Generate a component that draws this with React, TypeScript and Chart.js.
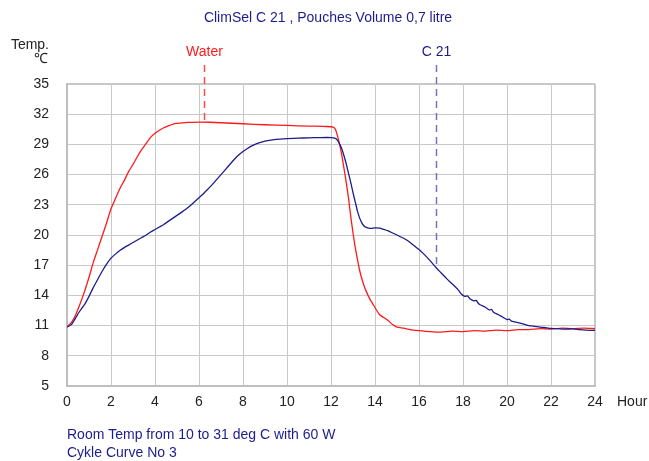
import React, { useEffect, useRef } from "react";
import { Chart, registerables } from "chart.js";

Chart.register(...registerables);

const titleText = "ClimSel C 21 , Pouches Volume 0,7 litre";
const yAxisLabel = ["Temp.", "℃"];
const xAxisLabel = "Hour";
const footerLines = ["Room Temp from 10 to 31 deg C with 60 W", "Cykle Curve No 3"];

const annotationLabels = ["Water", "C 21"];
const annotationHours = [6.23, 16.76];
const annotationTemps = [31.2, 16.7];

const waterHours = [
  0, 0.2, 0.4, 0.6, 0.8, 1.0, 1.2, 1.4, 1.6, 1.8, 2.0, 2.2, 2.4, 2.6, 2.8, 3.0, 3.2, 3.4, 3.6, 3.8,
  4.0, 4.2, 4.4, 4.6, 4.8, 5.0, 5.5, 6.0, 6.5, 7.0, 8.0, 9.0, 10.0, 11.0, 11.8, 12.1, 12.2, 12.3,
  12.4, 12.5, 12.6, 12.7, 12.8, 12.9, 13.0, 13.1, 13.2, 13.3, 13.45, 13.6, 13.8, 14.0, 14.2, 14.4,
  14.6, 14.8, 15.0, 15.3, 15.6, 16.0, 16.5, 17.0, 17.5, 18.0, 18.5, 19.0, 19.5, 20.0, 20.5, 21.0,
  21.5, 22.0, 22.5, 23.0, 23.5, 24.0,
];
const waterTemps = [
  10.9, 11.3, 12.1, 13.2, 14.4, 15.8, 17.3, 18.6, 19.9, 21.2, 22.6, 23.6, 24.6, 25.4, 26.3, 27.0,
  27.8, 28.5, 29.1, 29.7, 30.1, 30.4, 30.65, 30.85, 31.0, 31.08, 31.18, 31.22, 31.2, 31.15, 31.05,
  30.95, 30.88, 30.82, 30.78, 30.72, 30.5, 29.8, 28.9, 27.8, 26.5, 25.1, 23.6, 21.8, 20.2, 18.8,
  17.6, 16.5, 15.3, 14.4, 13.5, 12.8, 12.1, 11.8, 11.5, 11.1, 10.85, 10.75, 10.6, 10.5, 10.4, 10.35,
  10.45, 10.4, 10.5, 10.45, 10.55, 10.5, 10.6, 10.6, 10.7, 10.65, 10.75, 10.7, 10.75, 10.7,
];

const c21Hours = [
  0, 0.2, 0.4, 0.6, 0.8, 1.0, 1.2, 1.4, 1.6, 1.8, 2.0, 2.2, 2.4, 2.6, 2.8, 3.0, 3.2, 3.4, 3.6, 3.8,
  4.0, 4.2, 4.4, 4.6, 4.8, 5.0, 5.2, 5.4, 5.6, 5.8, 6.0, 6.2, 6.4, 6.6, 6.8, 7.0, 7.2, 7.4, 7.6, 7.8,
  8.0, 8.2, 8.4, 8.6, 8.8, 9.0, 9.5, 10.0, 10.5, 11.0, 11.5, 12.0, 12.2, 12.3, 12.4, 12.5, 12.6,
  12.7, 12.8, 12.9, 13.0, 13.1, 13.2, 13.3, 13.4, 13.5, 13.6, 13.8, 14.0, 14.2, 14.4, 14.6, 14.8,
  15.0, 15.2, 15.4, 15.6, 15.8, 16.0, 16.2, 16.4, 16.6, 16.8, 17.0, 17.2, 17.4, 17.6, 17.8, 17.9,
  18.0, 18.1, 18.2, 18.3, 18.4, 18.5, 18.6, 18.7, 18.8, 19.0, 19.2, 19.3, 19.4, 19.6, 19.8, 20.0,
  20.1, 20.2, 20.4, 20.6, 20.8, 21.0, 21.2, 21.5, 21.8, 22.0, 22.3, 22.6, 23.0, 23.3, 23.6, 24.0,
];
const c21Temps = [
  10.85, 11.1, 11.8, 12.5, 13.1, 13.9, 14.8, 15.6, 16.4, 17.1, 17.7, 18.1, 18.45, 18.75, 19.0, 19.25,
  19.5, 19.75, 20.0, 20.3, 20.55, 20.8, 21.05, 21.35, 21.65, 21.95, 22.25, 22.55, 22.9, 23.3, 23.7,
  24.1, 24.55, 25.0, 25.5, 26.0, 26.5, 27.0, 27.5, 27.95, 28.3, 28.6, 28.85, 29.05, 29.2, 29.32,
  29.5, 29.58, 29.62, 29.65, 29.68, 29.68, 29.6, 29.4, 29.0, 28.5, 27.8, 27.0, 26.1, 25.2, 24.2,
  23.3, 22.4, 21.7, 21.2, 20.9, 20.75, 20.65, 20.7, 20.68, 20.55, 20.4, 20.2, 20.0, 19.78, 19.55,
  19.25, 18.9, 18.55, 18.15, 17.7, 17.2, 16.7, 16.25, 15.8, 15.35, 14.95, 14.5, 14.2, 14.0, 13.9,
  13.95, 13.7, 13.55, 13.45, 13.5, 13.2, 13.05, 12.85, 12.55, 12.6, 12.3, 12.1, 11.85, 11.6, 11.65,
  11.45, 11.35, 11.25, 11.12, 11.0, 10.95, 10.85, 10.78, 10.72, 10.7, 10.65, 10.68, 10.6, 10.55,
  10.52,
];

const yTicks = [5, 8, 11, 14, 17, 20, 23, 26, 29, 32, 35];
const xTicks = [0, 2, 4, 6, 8, 10, 12, 14, 16, 18, 20, 22, 24];

const FONT = "'Liberation Sans', Arial, sans-serif";
const RED = "#ff1a1a";
const BLUE = "#1c1c8c";
const TEXT_BLUE = "#1c1c8c";
const GRID = "#c8c8c8";
const BORDER = "#bebebe";

const toPoints = (xs: number[], ys: number[]) => xs.map((x, i) => ({ x, y: ys[i] }));

const overlayPlugin = {
  id: "overlay",
  afterDatasetsDraw(chart: any) {
    const { ctx, chartArea, scales } = chart;
    const xs = scales.x;
    const ys = scales.y;
    ctx.save();
    // title
    ctx.font = `14px ${FONT}`;
    ctx.fillStyle = TEXT_BLUE;
    ctx.textAlign = "center";
    ctx.textBaseline = "middle";
    ctx.fillText(titleText, 328, 18);
    // y axis label
    ctx.fillStyle = "#222222";
    ctx.textAlign = "right";
    ctx.fillText(yAxisLabel[0], 49, 45);
    ctx.fillText(yAxisLabel[1], 48, 59);
    // x axis label
    ctx.textAlign = "left";
    ctx.fillText(xAxisLabel, 617, chartArea.bottom + 16);
    // footer
    ctx.fillStyle = TEXT_BLUE;
    ctx.fillText(footerLines[0], 67, 435);
    ctx.fillText(footerLines[1], 67, 453);
    // annotations
    const colors = [RED, BLUE];
    const dashColors = ["#ff4a4a", "#7474bc"];
    annotationLabels.forEach((label, i) => {
      const px = Math.round(xs.getPixelForValue(annotationHours[i])) + 0.5;
      const py = ys.getPixelForValue(annotationTemps[i]);
      ctx.fillStyle = colors[i];
      ctx.textAlign = "center";
      ctx.fillText(label, px, 52.5);
      ctx.strokeStyle = dashColors[i];
      ctx.lineWidth = 1.5;
      ctx.setLineDash([7, 5]);
      ctx.beginPath();
      ctx.moveTo(px, chartArea.top - 19);
      ctx.lineTo(px, py);
      ctx.stroke();
    });
    ctx.restore();
  },
};

export default function App() {
  const ref = useRef<HTMLCanvasElement | null>(null);
  useEffect(() => {
    if (!ref.current) return;
    const chart = new Chart(ref.current, {
      type: "line",
      data: {
        datasets: [
          {
            label: "C 21",
            data: toPoints(c21Hours, c21Temps),
            borderColor: BLUE,
            borderWidth: 1.3,
            pointRadius: 0,
            tension: 0.2,
            fill: false,
          },
          {
            label: "Water",
            data: toPoints(waterHours, waterTemps),
            borderColor: RED,
            borderWidth: 1.3,
            pointRadius: 0,
            tension: 0.2,
            fill: false,
          },
        ],
      },
      options: {
        animation: false,
        responsive: false,
        maintainAspectRatio: false,
        layout: { padding: { top: 84, right: 54, left: 0, bottom: 0 } },
        plugins: { legend: { display: false }, title: { display: false }, tooltip: { enabled: false } },
        scales: {
          x: {
            type: "linear",
            min: 0,
            max: 24,
            afterBuildTicks: (s: any) => {
              s.ticks = xTicks.map((v) => ({ value: v }));
            },
            afterFit: (s: any) => {
              s.height = 75;
            },
            ticks: { font: { family: FONT, size: 14 }, color: "#222222", padding: 8, maxRotation: 0, autoSkip: false },
            grid: {
              color: GRID,
              lineWidth: (c: any) => (c.tick && c.tick.value === 24 ? 2 : 1),
              drawTicks: false,
            },
            border: { display: true, color: BORDER, width: 2 },
          },
          y: {
            type: "linear",
            min: 5,
            max: 35,
            afterBuildTicks: (s: any) => {
              s.ticks = yTicks.map((v) => ({ value: v }));
            },
            afterFit: (s: any) => {
              s.width = 67;
            },
            ticks: { font: { family: FONT, size: 14 }, color: "#222222", padding: 18, autoSkip: false },
            grid: {
              color: GRID,
              lineWidth: (c: any) => (c.tick && c.tick.value === 35 ? 2 : 1),
              drawTicks: false,
            },
            border: { display: true, color: BORDER, width: 2 },
          },
        },
      },
      plugins: [overlayPlugin],
    });
    return () => chart.destroy();
  }, []);
  return (
    <div style={{ position: "fixed", left: 0, top: 0, width: 649, height: 461, background: "#ffffff" }}>
      <canvas ref={ref} width={649} height={461} />
    </div>
  );
}
